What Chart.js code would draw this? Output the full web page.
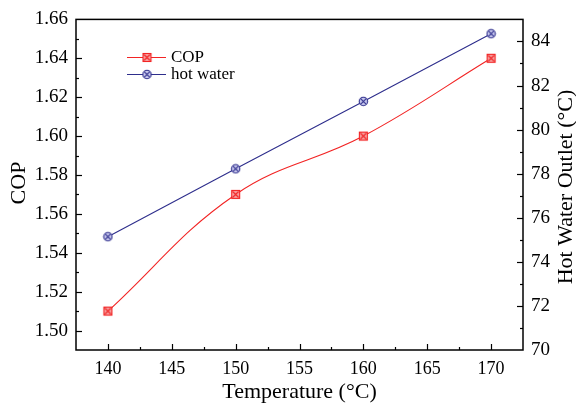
<!DOCTYPE html>
<html><head><meta charset="utf-8">
<style>html,body{margin:0;padding:0;background:#fff}#wrap{width:576px;height:404px;position:relative}</style>
<script src="https://cdn.jsdelivr.net/npm/chart.js@4"></script>
</head><body><div id="wrap"><canvas id="c" width="576" height="404"></canvas></div>
<script>
const temperatures = [140, 150, 160, 170];
const copValues = [1.51, 1.57, 1.60, 1.64];
const hotWaterValues = [75.14, 78.22, 81.28, 84.35];
const xTickValues = [140, 145, 150, 155, 160, 165, 170];
const copTickValues = [1.50, 1.52, 1.54, 1.56, 1.58, 1.60, 1.62, 1.64, 1.66];
const hotTickValues = [70, 72, 74, 76, 78, 80, 82, 84];
const seriesNames = ['COP', 'hot water'];
const axisTitles = { x: 'Temperature (°C)', y: 'COP', y2: 'Hot Water Outlet (°C)' };

const RED = '#f22424', RED_FILL = '#f7a3a3';
const BLUE = '#2e2e8c', BLUE_FILL = '#c9c9ee';
const FONT = '"Liberation Serif", "Times New Roman", serif';

function makeMarker(kind, stroke, fill) {
  const c = document.createElement('canvas');
  c.width = 11; c.height = 11;
  const g = c.getContext('2d');
  g.lineWidth = 1.1; g.strokeStyle = stroke; g.fillStyle = fill;
  if (kind === 'square') {
    g.fillRect(1.5, 1.5, 8, 8); g.strokeRect(1.5, 1.5, 8, 8);
    g.beginPath(); g.moveTo(2.5, 2.5); g.lineTo(8.5, 8.5); g.moveTo(8.5, 2.5); g.lineTo(2.5, 8.5); g.stroke();
  } else {
    g.beginPath(); g.arc(5.5, 5.5, 4.2, 0, Math.PI * 2); g.fill(); g.stroke();
    g.beginPath(); g.moveTo(2.7, 2.7); g.lineTo(8.3, 8.3); g.moveTo(8.3, 2.7); g.lineTo(2.7, 8.3); g.stroke();
  }
  return c;
}
const redMarker = makeMarker('square', RED, RED_FILL);
const blueMarker = makeMarker('circle', BLUE, BLUE_FILL);

const frameTicks = {
  id: 'frameTicks',
  afterDraw(chart) {
    const { ctx, chartArea: a, scales } = chart;
    ctx.save();
    ctx.strokeStyle = '#000'; ctx.lineWidth = 1.5;
    ctx.strokeRect(a.left, a.top, a.right - a.left, a.bottom - a.top);
    ctx.lineWidth = 1.2;
    const x = scales.x, y = scales.y, y2 = scales.y2;
    const line = (x1, y1, x2, y2_) => { ctx.beginPath(); ctx.moveTo(x1, y1); ctx.lineTo(x2, y2_); ctx.stroke(); };
    for (let v = x.min; v <= x.max + 1e-9; v += 2.5) {
      const px = Math.round(x.getPixelForValue(v)) + 0.5;
      const major = Math.abs((v / 5) - Math.round(v / 5)) < 1e-6;
      if (px <= a.left + 1 || px >= a.right - 1) continue;
      line(px, a.bottom, px, a.bottom - (major ? 6 : 3));
    }
    for (let i = 0; i <= 17; i++) {
      const v = y.min + i * 0.01;
      const py = Math.round(y.getPixelForValue(v)) + 0.5;
      if (py <= a.top + 1 || py >= a.bottom - 1) continue;
      const major = i % 2 === 1;
      line(a.left, py, a.left + (major ? 6 : 3), py);
    }
    for (let v = 70; v <= 85; v += 1) {
      const py = Math.round(y2.getPixelForValue(v)) + 0.5;
      if (py <= a.top + 1 || py >= a.bottom - 1) continue;
      const major = v % 2 === 0;
      line(a.right, py, a.right - (major ? 6 : 3), py);
    }
    // axis titles
    ctx.fillStyle = '#000';
    ctx.font = '22px ' + FONT; ctx.textAlign = 'center'; ctx.textBaseline = 'middle';
    ctx.fillText(axisTitles.x, (a.left + a.right) / 2, 392);
    ctx.save(); ctx.translate(19.5, 183); ctx.rotate(-Math.PI / 2); ctx.fillText(axisTitles.y, 0, 0); ctx.restore();
    ctx.save(); ctx.translate(566, 187); ctx.rotate(-Math.PI / 2); ctx.fillText(axisTitles.y2, 0, 0); ctx.restore();
    // legend
    const rows = [
      { name: seriesNames[0], color: RED, img: redMarker, y: 57 },
      { name: seriesNames[1], color: BLUE, img: blueMarker, y: 74 }
    ];
    ctx.font = '17px ' + FONT; ctx.textAlign = 'left'; ctx.textBaseline = 'middle';
    rows.forEach(r => {
      ctx.strokeStyle = r.color; ctx.lineWidth = 1;
      line(127, r.y + 0.5, 166, r.y + 0.5);
      ctx.drawImage(r.img, 147 - 5.5, r.y - 5);
      ctx.fillStyle = '#000';
      ctx.fillText(r.name, 171, r.y + 1);
    });
    ctx.restore();
  }
};

new Chart(document.getElementById('c'), {
  type: 'line',
  data: {
    datasets: [
      {
        label: seriesNames[0],
        data: temperatures.map((t, i) => ({ x: t, y: copValues[i] })),
        yAxisID: 'y', borderColor: RED, borderWidth: 1.1,
        tension: 0.4, pointStyle: redMarker, fill: false
      },
      {
        label: seriesNames[1],
        data: temperatures.map((t, i) => ({ x: t, y: hotWaterValues[i] })),
        yAxisID: 'y2', borderColor: BLUE, borderWidth: 1.1,
        tension: 0, pointStyle: blueMarker, fill: false
      }
    ]
  },
  options: {
    responsive: false, animation: false, devicePixelRatio: 1,
    layout: { padding: { top: 19, left: 0, right: 0, bottom: 0 } },
    plugins: { legend: { display: false }, tooltip: { enabled: false } },
    scales: {
      x: {
        type: 'linear', min: 137.5, max: 172.5,
        afterBuildTicks(s) { s.ticks = xTickValues.map(v => ({ value: v })); },
        afterFit(s) { s.height = 54; },
        grid: { display: false, drawTicks: false }, border: { display: false },
        ticks: { color: '#000', padding: 8, font: { family: FONT, size: 18 }, maxRotation: 0, autoSkip: false },
        title: { display: false }
      },
      y: {
        position: 'left', min: 1.49, max: 1.66,
        afterBuildTicks(s) { s.ticks = copTickValues.map(v => ({ value: v })); },
        afterFit(s) { s.width = 76; },
        grid: { display: false, drawTicks: false }, border: { display: false },
        ticks: { color: '#000', padding: 8, font: { family: FONT, size: 19 }, callback: v => v.toFixed(2), autoSkip: false },
        title: { display: false }
      },
      y2: {
        position: 'right', min: 70, max: 85,
        afterBuildTicks(s) { s.ticks = hotTickValues.map(v => ({ value: v })); },
        afterFit(s) { s.width = 53; },
        grid: { display: false, drawTicks: false }, border: { display: false },
        ticks: { color: '#000', padding: 8, font: { family: FONT, size: 19 }, autoSkip: false },
        title: { display: false }
      }
    }
  },
  plugins: [frameTicks]
});
</script></body></html>
